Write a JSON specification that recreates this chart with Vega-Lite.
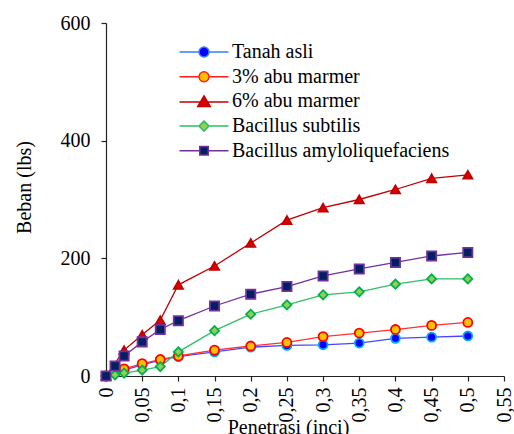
{
  "$schema": "https://vega.github.io/schema/vega-lite/v6.json",
  "autosize": "none",
  "width": 398,
  "height": 353,
  "padding": {"left": 106, "top": 23, "right": 10, "bottom": 58},
  "background": "white",
  "config": {
    "view": {"stroke": null},
    "font": "Liberation Serif",
    "axis": {
      "grid": false,
      "domainColor": "#222",
      "tickColor": "#222",
      "labelColor": "#000",
      "titleColor": "#000",
      "labelFont": "Liberation Serif",
      "titleFont": "Liberation Serif",
      "labelFontSize": 20,
      "titleFontSize": 20,
      "titleFontWeight": "normal",
      "tickSize": 5,
      "domainWidth": 1.2,
      "tickWidth": 1.2
    },
    "legend": {
      "labelFont": "Liberation Serif",
      "labelFontSize": 20,
      "labelColor": "#000"
    }
  },
  "data": {
    "values": [
      {"s": "Tanah asli", "x": 0, "y": 0},
      {"s": "Tanah asli", "x": 0.025, "y": 10},
      {"s": "Tanah asli", "x": 0.05, "y": 19},
      {"s": "Tanah asli", "x": 0.075, "y": 27},
      {"s": "Tanah asli", "x": 0.1, "y": 33},
      {"s": "Tanah asli", "x": 0.15, "y": 41},
      {"s": "Tanah asli", "x": 0.2, "y": 49},
      {"s": "Tanah asli", "x": 0.25, "y": 52},
      {"s": "Tanah asli", "x": 0.3, "y": 53},
      {"s": "Tanah asli", "x": 0.35, "y": 56},
      {"s": "Tanah asli", "x": 0.4, "y": 64},
      {"s": "Tanah asli", "x": 0.45, "y": 66},
      {"s": "Tanah asli", "x": 0.5, "y": 68},
      {"s": "3% abu marmer", "x": 0, "y": 0},
      {"s": "3% abu marmer", "x": 0.025, "y": 12},
      {"s": "3% abu marmer", "x": 0.05, "y": 21},
      {"s": "3% abu marmer", "x": 0.075, "y": 28},
      {"s": "3% abu marmer", "x": 0.1, "y": 34},
      {"s": "3% abu marmer", "x": 0.15, "y": 44},
      {"s": "3% abu marmer", "x": 0.2, "y": 51},
      {"s": "3% abu marmer", "x": 0.25, "y": 57},
      {"s": "3% abu marmer", "x": 0.3, "y": 67},
      {"s": "3% abu marmer", "x": 0.35, "y": 73},
      {"s": "3% abu marmer", "x": 0.4, "y": 79},
      {"s": "3% abu marmer", "x": 0.45, "y": 86},
      {"s": "3% abu marmer", "x": 0.5, "y": 91},
      {"s": "6% abu marmer", "x": 0, "y": 0},
      {"s": "6% abu marmer", "x": 0.025, "y": 44},
      {"s": "6% abu marmer", "x": 0.05, "y": 70},
      {"s": "6% abu marmer", "x": 0.075, "y": 95},
      {"s": "6% abu marmer", "x": 0.1, "y": 155},
      {"s": "6% abu marmer", "x": 0.15, "y": 187},
      {"s": "6% abu marmer", "x": 0.2, "y": 226},
      {"s": "6% abu marmer", "x": 0.25, "y": 265},
      {"s": "6% abu marmer", "x": 0.3, "y": 286},
      {"s": "6% abu marmer", "x": 0.35, "y": 300},
      {"s": "6% abu marmer", "x": 0.4, "y": 317},
      {"s": "6% abu marmer", "x": 0.45, "y": 336},
      {"s": "6% abu marmer", "x": 0.5, "y": 342},
      {"s": "Bacillus subtilis", "x": 0, "y": 0},
      {"s": "Bacillus subtilis", "x": 0.0125, "y": 2},
      {"s": "Bacillus subtilis", "x": 0.025, "y": 5},
      {"s": "Bacillus subtilis", "x": 0.05, "y": 10},
      {"s": "Bacillus subtilis", "x": 0.075, "y": 16},
      {"s": "Bacillus subtilis", "x": 0.1, "y": 41},
      {"s": "Bacillus subtilis", "x": 0.15, "y": 77},
      {"s": "Bacillus subtilis", "x": 0.2, "y": 105},
      {"s": "Bacillus subtilis", "x": 0.25, "y": 121},
      {"s": "Bacillus subtilis", "x": 0.3, "y": 138},
      {"s": "Bacillus subtilis", "x": 0.35, "y": 143},
      {"s": "Bacillus subtilis", "x": 0.4, "y": 156},
      {"s": "Bacillus subtilis", "x": 0.45, "y": 165},
      {"s": "Bacillus subtilis", "x": 0.5, "y": 165},
      {"s": "Bacillus amyloliquefaciens", "x": 0, "y": 0},
      {"s": "Bacillus amyloliquefaciens", "x": 0.0125, "y": 17},
      {"s": "Bacillus amyloliquefaciens", "x": 0.025, "y": 34},
      {"s": "Bacillus amyloliquefaciens", "x": 0.05, "y": 58},
      {"s": "Bacillus amyloliquefaciens", "x": 0.075, "y": 79},
      {"s": "Bacillus amyloliquefaciens", "x": 0.1, "y": 94},
      {"s": "Bacillus amyloliquefaciens", "x": 0.15, "y": 119},
      {"s": "Bacillus amyloliquefaciens", "x": 0.2, "y": 139},
      {"s": "Bacillus amyloliquefaciens", "x": 0.25, "y": 152},
      {"s": "Bacillus amyloliquefaciens", "x": 0.3, "y": 170},
      {"s": "Bacillus amyloliquefaciens", "x": 0.35, "y": 182},
      {"s": "Bacillus amyloliquefaciens", "x": 0.4, "y": 193},
      {"s": "Bacillus amyloliquefaciens", "x": 0.45, "y": 204},
      {"s": "Bacillus amyloliquefaciens", "x": 0.5, "y": 210}
    ]
  },
  "encoding": {
    "x": {
      "field": "x",
      "type": "quantitative",
      "scale": {"domain": [0, 0.55], "nice": false, "zero": true},
      "axis": {
        "title": "Penetrasi (inci)",
        "values": [0, 0.05, 0.1, 0.15, 0.2, 0.25, 0.3, 0.35, 0.4, 0.45, 0.5, 0.55],
        "labelExpr": "replace(format(datum.value, '.2~f'), '.', ',')",
        "labelAngle": -90,
        "labelPadding": 6,
        "labelFlush": false,
        "labelOverlap": false,
        "titleX": 182,
        "titleY": 41,
        "titleAlign": "center",
        "titleBaseline": "top"
      }
    },
    "y": {
      "field": "y",
      "type": "quantitative",
      "scale": {"domain": [0, 600], "nice": false},
      "axis": {
        "title": "Beban (lbs)",
        "values": [0, 200, 400, 600],
        "labelPadding": 11,
        "labelFlush": false,
        "titleX": -82,
        "titleY": 164,
        "titleAngle": -90,
        "titleAlign": "center",
        "titleBaseline": "middle"
      }
    }
  },
  "layer": [
    {
      "mark": {"type": "line", "strokeWidth": 1.3},
      "encoding": {
        "color": {
          "field": "s",
          "type": "nominal",
          "scale": {
            "domain": ["Tanah asli", "3% abu marmer", "6% abu marmer", "Bacillus subtilis", "Bacillus amyloliquefaciens"],
            "range": ["#4646ff", "#ff3030", "#c00000", "#2fbf66", "#7030a0"]
          },
          "legend": null
        }
      }
    },
    {
      "mark": {"type": "point", "filled": true, "strokeWidth": 1.8, "opacity": 1},
      "encoding": {
        "shape": {
          "field": "s",
          "type": "nominal",
          "scale": {
            "domain": ["Tanah asli", "3% abu marmer", "6% abu marmer", "Bacillus subtilis", "Bacillus amyloliquefaciens"],
            "range": ["circle", "circle", "triangle-up", "diamond", "square"]
          },
          "legend": null
        },
        "size": {
          "field": "s",
          "type": "nominal",
          "scale": {
            "domain": ["Tanah asli", "3% abu marmer", "6% abu marmer", "Bacillus subtilis", "Bacillus amyloliquefaciens"],
            "range": [80, 85, 125, 75, 70]
          },
          "legend": null
        },
        "fill": {
          "field": "s",
          "type": "nominal",
          "scale": {
            "domain": ["Tanah asli", "3% abu marmer", "6% abu marmer", "Bacillus subtilis", "Bacillus amyloliquefaciens"],
            "range": ["#0000ff", "#ffc000", "#dd0000", "#92d050", "#002060"]
          },
          "legend": null
        },
        "stroke": {
          "field": "s",
          "type": "nominal",
          "scale": {
            "domain": ["Tanah asli", "3% abu marmer", "6% abu marmer", "Bacillus subtilis", "Bacillus amyloliquefaciens"],
            "range": ["#00b0f0", "#ff0000", "#c00000", "#00b050", "#7030a0"]
          },
          "legend": null
        }
      }
    },
    {
      "mark": {"type": "point", "filled": true, "opacity": 0},
      "encoding": {
        "shape": {
          "field": "s",
          "type": "nominal",
          "scale": {
            "domain": ["Tanah asli", "3% abu marmer", "6% abu marmer", "Bacillus subtilis", "Bacillus amyloliquefaciens"],
            "range": [
              "M-4.9,0H-1M1,0H4.9M-1,0A1,1,0,1,0,1,0A1,1,0,1,0,-1,0Z",
              "M-4.9,0H-1M1,0H4.9M-1,0A1,1,0,1,0,1,0A1,1,0,1,0,-1,0Z",
              "M-4.9,0.1H-0.7M0.7,0.1H4.9M0,-1.1L1.25,1L-1.25,1Z",
              "M-4.9,0H-1M1,0H4.9M0,-1L1,0L0,1L-1,0Z",
              "M-4.9,0H-0.85M0.85,0H4.9M-0.85,-0.85H0.85V0.85H-0.85Z"
            ]
          },
          "legend": {
            "title": null,
            "orient": "none",
            "legendX": 88,
            "legendY": 19,
            "padding": 0,
            "symbolSize": 100,
            "symbolStrokeWidth": 1.5,
            "symbolOpacity": 1,
            "labelOffset": 18,
            "rowPadding": 4.7,
            "labelLimit": 400
          }
        },
        "fill": {
          "field": "s",
          "type": "nominal",
          "scale": {
            "domain": ["Tanah asli", "3% abu marmer", "6% abu marmer", "Bacillus subtilis", "Bacillus amyloliquefaciens"],
            "range": ["#0000ff", "#ffc000", "#dd0000", "#92d050", "#002060"]
          },
          "legend": {
            "title": null,
            "orient": "none",
            "legendX": 88,
            "legendY": 19,
            "padding": 0,
            "symbolSize": 100,
            "symbolStrokeWidth": 1.5,
            "symbolOpacity": 1,
            "labelOffset": 18,
            "rowPadding": 4.7,
            "labelLimit": 400
          }
        },
        "stroke": {
          "field": "s",
          "type": "nominal",
          "scale": {
            "domain": ["Tanah asli", "3% abu marmer", "6% abu marmer", "Bacillus subtilis", "Bacillus amyloliquefaciens"],
            "range": ["#3b7bff", "#ff2020", "#c00000", "#2fbf66", "#7030a0"]
          },
          "legend": {
            "title": null,
            "orient": "none",
            "legendX": 88,
            "legendY": 19,
            "padding": 0,
            "symbolSize": 100,
            "symbolStrokeWidth": 1.5,
            "symbolOpacity": 1,
            "labelOffset": 18,
            "rowPadding": 4.7,
            "labelLimit": 400
          }
        }
      }
    }
  ],
  "resolve": {"scale": {"shape": "independent", "fill": "independent", "stroke": "independent"}}
}
